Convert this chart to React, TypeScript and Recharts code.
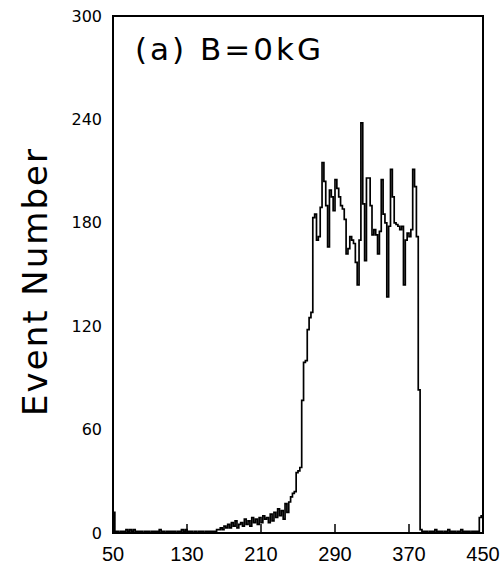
import React from 'react';
import { LineChart, Line, XAxis, YAxis, ReferenceArea } from 'recharts';

// Histogram: bins of width 2 starting at 50
const binStart = 50;
const binWidth = 2;
const xTicks = [50, 130, 210, 290, 370, 450];
const yTicks = [0, 60, 120, 180, 240, 300];
const titleText = '(a) B=0kG';
const yLabelText = 'Event Number';

// bins 50 .. 168
const lowCounts = [
  12, 1, 1, 0, 1, 1, 1, 2, 1, 2, 1,
  2, 1, 1, 1, 1, 0, 1, 1, 1, 0,
  1, 1, 1, 1, 2, 1, 1, 0, 1, 1,
  1, 1, 1, 0, 1, 1, 2, 1, 2, 1,
  1, 1, 0, 1, 0, 1, 1, 1, 0, 1,
  1, 1, 1, 1, 1, 2, 2, 3, 2,
];
// bins 170 .. 264
const riseCounts = [
  4, 3, 5, 3, 6, 4, 7, 3, 5, 6,
  4, 8, 5, 7, 4, 9, 6, 8, 5, 9,
  6, 10, 8, 9, 6, 11, 7, 12, 9, 14,
  10, 13, 8, 17, 12, 18, 21, 23, 24, 35,
  36, 38, 77, 99, 100, 118, 125, 128,
];
// bins 266 .. 380
const plateauCounts = [
  183, 185, 170, 172, 189, 215, 204, 190, 166, 199,
  195, 187, 205, 200, 195, 190, 188, 182, 162, 165,
  172, 170, 168, 157, 144, 170, 238, 191, 158, 206,
  206, 190, 173, 176, 173, 162, 175, 205, 185, 180,
  137, 178, 211, 195, 180, 179, 178, 176, 178, 144,
  170, 174, 172, 176, 211, 201, 172, 83,
];
// bins 382 .. 448
const tailCounts = [
  2, 1, 1, 1, 0, 1, 1, 1, 2, 1,
  1, 1, 0, 1, 1, 2, 1, 1, 1, 0,
  1, 1, 2, 1, 1, 1, 1, 0, 1, 1,
  1, 1, 9, 10,
];

const counts = [...lowCounts, ...riseCounts, ...plateauCounts, ...tailCounts];
const data = counts.map((c, i) => ({ x: binStart + i * binWidth, count: c }));
data.push({ x: binStart + counts.length * binWidth, count: counts[counts.length - 1] });

const TitleLabel = (props: any) => {
  const vb = props.viewBox || {};
  return (
    <text
      x={vb.x + 22}
      y={vb.y + 44}
      fontFamily="DejaVu Sans"
      fontSize={31}
      letterSpacing={3}
      fill="#000"
    >
      {titleText}
    </text>
  );
};

const YLabel = (props: any) => {
  const vb = props.viewBox || {};
  const cx = vb.x - 18;
  const cy = vb.y + vb.height / 2 + 7;
  return (
    <text
      x={cx}
      y={cy}
      transform={`rotate(-90 ${cx} ${cy})`}
      textAnchor="middle"
      dominantBaseline="central"
      fontFamily="DejaVu Sans"
      fontSize={34}
      letterSpacing={2}
      fill="#000"
    >
      {yLabelText}
    </text>
  );
};

export default function App() {
  return (
    <div style={{ position: 'absolute', left: 0, top: 0, width: 504, height: 567, background: '#fff' }}>
      <LineChart
        width={504}
        height={567}
        data={data}
        margin={{ top: 16, right: 21, bottom: 4, left: 53 }}
      >
        <XAxis
          dataKey="x"
          type="number"
          domain={[50, 450]}
          ticks={xTicks}
          allowDataOverflow
          height={30}
          axisLine={{ stroke: '#000', strokeWidth: 2 }}
          tickLine={{ stroke: '#000', strokeWidth: 1.5 }}
          tickSize={-9}
          tickMargin={23}
          tick={{ fontFamily: 'Liberation Sans', fontSize: 20, fill: '#000' }}
          interval={0}
        />
        <YAxis
          type="number"
          domain={[0, 300]}
          ticks={yTicks}
          allowDataOverflow
          width={60}
          axisLine={{ stroke: '#000', strokeWidth: 2 }}
          tickLine={false}
          tickSize={0}
          tickMargin={11}
          tick={{ fontFamily: 'DejaVu Sans', fontSize: 16, fill: '#000' }}
          interval={0}
          label={{ content: YLabel }}
        />
        <ReferenceArea
          x1={50}
          x2={450}
          y1={0}
          y2={300}
          fill="none"
          fillOpacity={0}
          stroke="#000"
          strokeWidth={2}
          label={{ content: TitleLabel }}
        />
        <Line
          type="stepAfter"
          dataKey="count"
          stroke="#000"
          strokeWidth={1.7}
          dot={false}
          isAnimationActive={false}
        />
      </LineChart>
    </div>
  );
}
